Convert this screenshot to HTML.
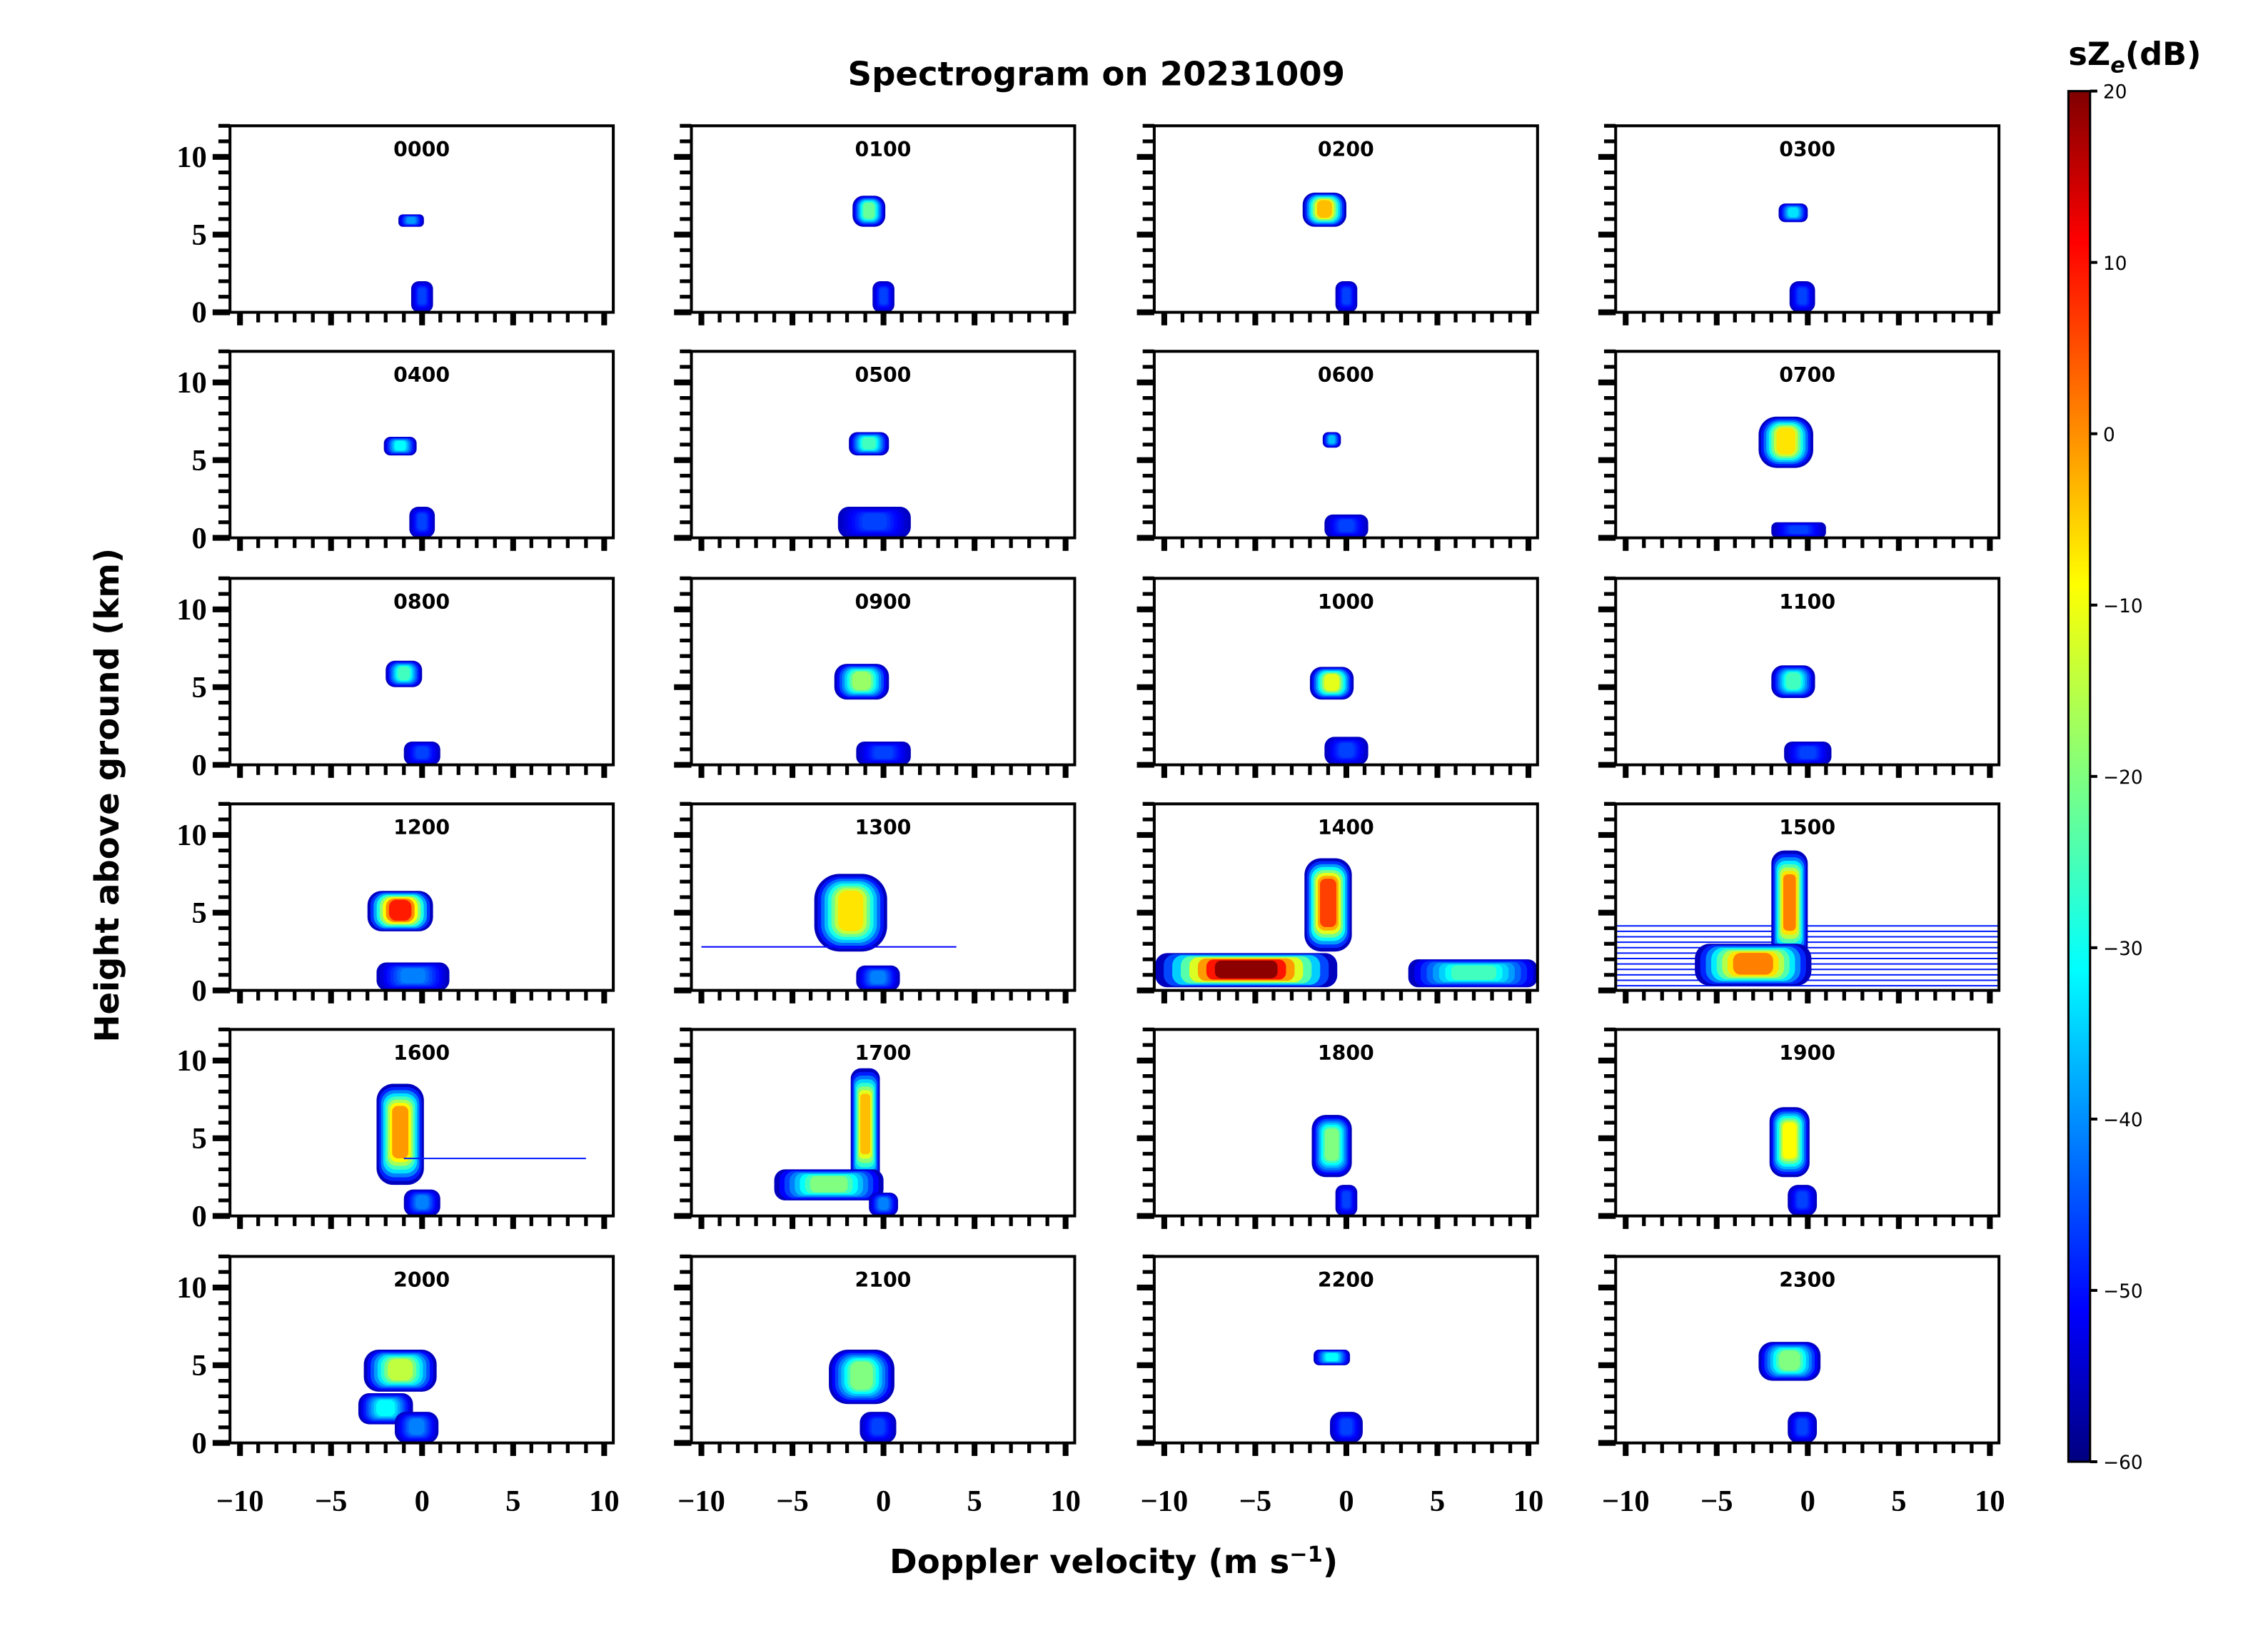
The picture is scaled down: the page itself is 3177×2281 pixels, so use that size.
<!DOCTYPE html>
<html><head><meta charset="utf-8"><style>
html,body{margin:0;padding:0;background:#fff}
svg{display:block}
text{font-family:"DejaVu Sans","Liberation Sans",sans-serif}
.tick{font-family:"Liberation Serif",serif;font-weight:bold;font-size:21px}
</style></head><body>
<svg id="fig" width="3177" height="2281" viewBox="0 0 1568 1126" preserveAspectRatio="none" xmlns="http://www.w3.org/2000/svg">
<defs>
<linearGradient id="jet" x1="0" y1="1" x2="0" y2="0">
<stop offset="0" stop-color="#00007f"/><stop offset="0.11" stop-color="#0000ff"/><stop offset="0.36" stop-color="#00ffff"/><stop offset="0.5" stop-color="#7fff7f"/><stop offset="0.64" stop-color="#ffff00"/><stop offset="0.89" stop-color="#ff0000"/><stop offset="1" stop-color="#7f0000"/>
</linearGradient>
</defs>
<text x="758" y="59" text-anchor="middle" font-size="23" font-weight="bold">Spectrogram on 20231009</text>
<text x="770" y="1088" text-anchor="middle" font-size="23" font-weight="bold">Doppler velocity (m s<tspan dy="-8" font-size="15">−1</tspan><tspan dy="8">)</tspan></text>
<text transform="translate(82,550) rotate(-90)" text-anchor="middle" font-size="23" font-weight="bold">Height above ground (km)</text>
<g id="panels"></g>
<g id="cbar"></g>
</svg>
<script>
const times=["0000","0100","0200","0300","0400","0500","0600","0700","0800","0900","1000","1100","1200","1300","1400","1500","1600","1700","1800","1900","2000","2100","2200","2300"];
// blobs per panel: [hBottom, hTop, vCenter, halfWidth, peak dB]
const blobs=[
[[5.5,6.3,-0.6,0.7,-38],[0,2,0,0.6,-45]],
[[5.5,7.5,-0.8,0.9,-22],[0,2,0,0.6,-45]],
[[5.5,7.7,-1.2,1.2,-5],[0,2,0,0.6,-45]],
[[5.8,7.0,-0.8,0.8,-32],[0,2,-0.3,0.7,-45]],
[[5.3,6.5,-1.2,0.9,-30],[0,2,0,0.7,-45]],
[[5.3,6.8,-0.8,1.1,-25],[0,2,-0.5,2,-45]],
[[5.8,6.8,-0.8,0.5,-35],[0,1.5,0,1.2,-45]],
[[4.5,7.8,-1.2,1.5,-8],[0,1,-0.5,1.5,-45]],
[[5,6.7,-1,1,-25],[0,1.5,0,1,-45]],
[[4.2,6.5,-1.2,1.5,-18],[0,1.5,0,1.5,-45]],
[[4.2,6.3,-0.8,1.2,-12],[0,1.8,0,1.2,-45]],
[[4.3,6.4,-0.8,1.2,-25],[0,1.5,0,1.3,-45]],
[[3.8,6.4,-1.2,1.8,8],[0,1.8,-0.5,2,-40]],
[[2.5,7.5,-1.8,2,-8],[0,1.6,-0.3,1.2,-40],[2.8,3.1,-3,7,-50]],
[[2.5,8.5,-1,1.3,5],[0.2,2.4,-5.5,5,19],[0.2,2,7,3.6,-25]],
[[0.3,4.2,0,10.5,-48],[2,9,-1,1,0],[0.3,3,-3,3.2,0]],
[[2,8.5,-1.2,1.3,-2],[3.7,3.9,4,5,-48],[0,1.7,0,1,-40]],
[[2,9.5,-1,0.8,-5],[1,3,-3,3,-20],[0,1.5,0,0.8,-40]],
[[2.5,6.5,-0.8,1.1,-20],[0,2,0,0.6,-45]],
[[2.5,7,-1,1.1,-10],[0,2,-0.3,0.8,-45]],
[[3.3,6,-1.2,2,-15],[1.2,3.2,-2,1.5,-30],[0,2,-0.3,1.2,-40]],
[[2.5,6,-1.2,1.8,-20],[0,2,-0.3,1,-45]],
[[5,6,-0.8,1,-30],[0,2,0,0.9,-45]],
[[4,6.5,-1,1.7,-20],[0,2,-0.3,0.8,-45]]
];
const xTicks=[-10,-5,0,5,10];
const yTicks=[0,5,10];
const cbTicks=[20,10,0,-10,-20,-30,-40,-50,-60];
const colX=[159,478,798,1117], rowY=[87,243,400,556,712,869], PW=265, PH=129;
const XMIN=-10.55,XMAX=10.5,YMAX=12,CMIN=-60,CMAX=20;
const NS="http://www.w3.org/2000/svg";
function mk(tag,attrs,parent){const e=document.createElementNS(NS,tag);for(const k in attrs)e.setAttribute(k,attrs[k]);parent.appendChild(e);return e;}
function jet(v){let t=(v-CMIN)/(CMAX-CMIN);t=Math.max(0,Math.min(1,t));
 const r=Math.max(0,Math.min(1,1.5-Math.abs(4*t-3))),g=Math.max(0,Math.min(1,1.5-Math.abs(4*t-2))),b=Math.max(0,Math.min(1,1.5-Math.abs(4*t-1)));
 return `rgb(${Math.round(r*255)},${Math.round(g*255)},${Math.round(b*255)})`;}
const P=document.getElementById('panels');
times.forEach((t,i)=>{
 const c=i%4,r=Math.floor(i/4),x0=colX[c],y0=rowY[r];
 const sx=v=>x0+(v-XMIN)/(XMAX-XMIN)*PW, sy=h=>y0+PH-h/YMAX*PH;
 const g=mk('g',{},P);
 
 
 blobs[i].forEach(b=>{
  const xa0=Math.max(sx(b[2]-b[3]),x0), xb0=Math.min(sx(b[2]+b[3]),x0+PW);
  if(b[3]>=5 && b[4]<=-45){
   // sparse horizontal streaks
   for(let h=b[0];h<=b[1];h+=0.35){
    const ln=mk('rect',{x:xa0,y:sy(h)-0.5,width:xb0-xa0,height:1,fill:jet(b[4])},g);
    
    
   }
   return;
  }
  const N=8;
  for(let k=0;k<N;k++){
   const f=k/N;
   const span=b[1]-b[0];
   const h0=b[0]+span*f*0.3, h1=b[1]-span*f*0.25;
   const hw=b[3]*(1-0.75*f);
   const dB=-55+(b[4]+55)*(k/(N-1));
   const xa=Math.max(sx(b[2]-hw),x0), xb=Math.min(sx(b[2]+hw),x0+PW);
   const w=Math.max(0.5,xb-xa), hh=Math.max(0.6,sy(h0)-sy(h1));
   const rc=mk('rect',{x:xa,y:sy(h1),width:w,height:hh,rx:Math.min(w,hh)*0.35,fill:jet(dB)},g);
   
   
  }
 });
 const fr=mk('rect',{x:x0,y:y0,width:PW,height:PH,fill:'none',stroke:'#000','stroke-width':2},g);
 
 
 const tt=mk('text',{x:x0+PW/2,y:y0+21,'text-anchor':'middle','font-size':14,'font-weight':'bold'},g);tt.textContent=t;
 
 
 for(let v=-10;v<=10;v++){const maj=v%5===0;
  mk('line',{x1:sx(v),x2:sx(v),y1:y0+PH,y2:y0+PH+(maj?9:7),stroke:'#000','stroke-width':maj?4:2.6},g);}
 for(let h=0;h<=12;h++){const maj=h%5===0;
  mk('line',{x1:x0,x2:x0-(maj?12:8),y1:sy(h),y2:sy(h),stroke:'#000','stroke-width':maj?4:2.6},g);}
 if(c===0) yTicks.forEach(h=>{const e=mk('text',{x:x0-16,y:sy(h)+7,'text-anchor':'end',class:'tick'},g);e.textContent=h;
  
  });
 if(r===5) xTicks.forEach(v=>{const e=mk('text',{x:sx(v),y:y0+PH+47,'text-anchor':'middle',class:'tick'},g);e.textContent=(v<0?'−':'')+Math.abs(v);
  
  });
});
const C=document.getElementById('cbar');
const cx=1430,cw=15,cy0=63,cy1=1011;
const cyv=v=>cy1-(v-CMIN)/(CMAX-CMIN)*(cy1-cy0);
const cb=mk('rect',{x:cx,y:cy0,width:cw,height:cy1-cy0,fill:'url(#jet)',stroke:'#000','stroke-width':1.5},C);


cbTicks.forEach(v=>{mk('line',{x1:cx+cw,x2:cx+cw+5,y1:cyv(v),y2:cyv(v),stroke:'#000','stroke-width':2},C);
 const e=mk('text',{x:cx+cw+9,y:cyv(v)+5,'font-size':13},C);e.textContent=(v<0?'−':'')+Math.abs(v);
 
 });
const ct=mk('text',{x:1430,y:45,'font-size':22,'font-weight':'bold'},C);
ct.innerHTML='sZ<tspan dy="5" font-size="15" font-style="italic">e</tspan><tspan dy="-5">(dB)</tspan>';


</script>
</body></html>
